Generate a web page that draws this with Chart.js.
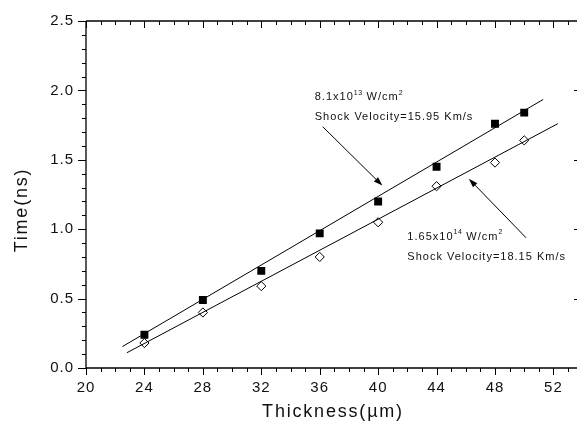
<!DOCTYPE html>
<html>
<head>
<meta charset="utf-8">
<script src="https://cdn.jsdelivr.net/npm/chart.js@4.4.1/dist/chart.umd.min.js"></script>
<style>
  html, body { margin: 0; padding: 0; background: #fff; }
  #wrap { width: 577px; height: 422px; }
</style>
</head>
<body>
<div id="wrap"><canvas id="chart"></canvas></div>
<script>
const thickness = [24, 28, 32, 36, 40, 44, 48, 50];
const timeLow = [0.24, 0.49, 0.70, 0.97, 1.20, 1.45, 1.76, 1.84];   // 8.1x10^13 W/cm2 (filled squares)
const timeHigh = [0.18, 0.40, 0.59, 0.80, 1.05, 1.31, 1.48, 1.64];  // 1.65x10^14 W/cm2 (open diamonds)

// linear fit lines, end points
const fitLowX = [22.5, 51.3];
const fitLowY = [0.155, 1.935];
const fitHighX = [22.8, 52.3];
const fitHighY = [0.11, 1.76];

const xTicks = [20, 24, 28, 32, 36, 40, 44, 48, 52];
const yTicks = [0.0, 0.5, 1.0, 1.5, 2.0, 2.5];

const FONT = "'Liberation Sans', Arial, sans-serif";

function pts(xs, ys) {
    return xs.map((x, i) => ({ x: x, y: ys[i] }));
}

// annotation labels + arrows (in data units)
const notes = [
    { x: 35.66, y: 1.955, parts: [["8.1x10"], ["13", true], [" W/cm"], ["2", true]] },
    { x: 35.66, y: 1.806, parts: [["Shock Velocity=15.95 Km/s"]] },
    { x: 42.0, y: 0.947, parts: [["1.65x10"], ["14", true], [" W/cm"], ["2", true]] },
    { x: 42.0, y: 0.799, parts: [["Shock Velocity=18.15 Km/s"]] }
];
const arrows = [
    { from: [36.2, 1.739], to: [40.29, 1.314] },
    { from: [50.13, 0.938], to: [46.21, 1.363] }
];

const framePlugin = {
    id: "frame",
    beforeDraw(chart) {
        chart.ctx.letterSpacing = "1px";
    },
    beforeDatasetsDraw(chart) {
        const ctx = chart.ctx;
        const xs = chart.scales.x, ys = chart.scales.y;
        const a = chart.chartArea;
        const edge = chart.width; // the frame runs to the picture edge
        ctx.save();
        ctx.strokeStyle = "#000";
        ctx.lineWidth = 1.3;
        ctx.beginPath();
        // axis lines: left, bottom, top
        ctx.moveTo(a.left, a.top); ctx.lineTo(a.left, a.bottom);
        ctx.moveTo(a.left, a.bottom); ctx.lineTo(edge, a.bottom);
        ctx.moveTo(a.left, a.top); ctx.lineTo(edge, a.top);
        ctx.stroke();

        ctx.lineWidth = 1;
        ctx.beginPath();
        for (let v = 20; v <= 53; v++) {
            const px = Math.round(xs.getPixelForValue(v)) + 0.5;
            const len = v % 4 === 0 ? 7 : 4;
            ctx.moveTo(px, a.bottom); ctx.lineTo(px, a.bottom + len);
            ctx.moveTo(px, a.top); ctx.lineTo(px, a.top + len);
        }
        for (let k = 0; k <= 25; k++) {
            const py = Math.round(ys.getPixelForValue(k / 10)) + 0.5;
            const major = k % 5 === 0;
            ctx.moveTo(a.left, py); ctx.lineTo(a.left - (major ? 8 : 4), py);
            if (major && k > 0 && k < 25) {
                ctx.moveTo(edge, py); ctx.lineTo(edge - 3, py);
            }
        }
        ctx.stroke();

        // axis titles
        ctx.fillStyle = "#111";
        ctx.font = "18px " + FONT;
        ctx.letterSpacing = "1.8px";
        ctx.textAlign = "center";
        ctx.textBaseline = "alphabetic";
        ctx.fillText("Thickness(\u00b5m)", 333, 417);
        ctx.translate(27, 210);
        ctx.rotate(-Math.PI / 2);
        ctx.fillText("Time(ns)", 0, 0);
        ctx.restore();
    },
    afterDraw(chart) {
        const ctx = chart.ctx;
        const xs = chart.scales.x, ys = chart.scales.y;
        ctx.save();
        ctx.fillStyle = "#111";
        ctx.textBaseline = "middle";
        ctx.textAlign = "left";
        ctx.letterSpacing = "1px";
        notes.forEach(n => {
            let px = xs.getPixelForValue(n.x);
            const py = ys.getPixelForValue(n.y);
            n.parts.forEach(p => {
                if (p[1]) {
                    ctx.font = "7px " + FONT;
                    ctx.letterSpacing = "0.5px";
                    ctx.fillText(p[0], px, py - 4);
                } else {
                    ctx.font = "11px " + FONT;
                    ctx.letterSpacing = "1px";
                    ctx.fillText(p[0], px, py);
                }
                px += ctx.measureText(p[0]).width;
            });
        });

        ctx.strokeStyle = "#000";
        ctx.lineWidth = 1;
        arrows.forEach(ar => {
            const x1 = xs.getPixelForValue(ar.from[0]), y1 = ys.getPixelForValue(ar.from[1]);
            const x2 = xs.getPixelForValue(ar.to[0]), y2 = ys.getPixelForValue(ar.to[1]);
            const ang = Math.atan2(y2 - y1, x2 - x1);
            const hl = 9, hw = 3;
            const bx = x2 - hl * Math.cos(ang), by = y2 - hl * Math.sin(ang);
            ctx.beginPath();
            ctx.moveTo(x1, y1); ctx.lineTo(bx, by);
            ctx.stroke();
            ctx.beginPath();
            ctx.moveTo(x2, y2);
            ctx.lineTo(bx + hw * Math.sin(ang), by - hw * Math.cos(ang));
            ctx.lineTo(bx - hw * Math.sin(ang), by + hw * Math.cos(ang));
            ctx.closePath();
            ctx.fillStyle = "#000";
            ctx.fill();
        });
        ctx.restore();
    }
};

new Chart(document.getElementById("chart"), {
    type: "scatter",
    data: {
        datasets: [
            {
                type: "line",
                data: pts(fitLowX, fitLowY),
                borderColor: "#000",
                borderWidth: 1,
                pointRadius: 0,
                fill: false,
                clip: false
            },
            {
                type: "line",
                data: pts(fitHighX, fitHighY),
                borderColor: "#000",
                borderWidth: 1,
                pointRadius: 0,
                fill: false,
                clip: false
            },
            {
                data: pts(thickness, timeLow),
                pointStyle: "rect",
                pointRadius: 5.6,
                backgroundColor: "#000",
                borderColor: "#000",
                borderWidth: 0
            },
            {
                data: pts(thickness, timeHigh),
                pointStyle: "rectRot",
                pointRadius: 4.6,
                backgroundColor: "#fff",
                borderColor: "#000",
                borderWidth: 1
            }
        ]
    },
    options: {
        responsive: true,
        maintainAspectRatio: false,
        animation: false,
        layout: { padding: { top: 20, right: 0, left: 0, bottom: 0 } },
        plugins: {
            legend: { display: false },
            tooltip: { enabled: false }
        },
        scales: {
            x: {
                type: "linear",
                min: 20,
                max: 53.23,
                afterFit(scale) { scale.height = 54; },
                afterBuildTicks(scale) { scale.ticks = xTicks.map(v => ({ value: v })); },
                grid: { display: false, drawTicks: false },
                border: { display: false },
                ticks: {
                    padding: 11,
                    color: "#111",
                    font: { family: FONT, size: 15 },
                    maxRotation: 0,
                    autoSkip: false
                }
            },
            y: {
                type: "linear",
                min: 0,
                max: 2.5,
                afterFit(scale) { scale.width = 86; },
                afterBuildTicks(scale) { scale.ticks = yTicks.map(v => ({ value: v })); },
                grid: { display: false, drawTicks: false },
                border: { display: false },
                ticks: {
                    padding: 12,
                    color: "#111",
                    font: { family: FONT, size: 15 },
                    callback: v => v.toFixed(1)
                }
            }
        }
    },
    plugins: [framePlugin]
});
</script>
</body>
</html>
